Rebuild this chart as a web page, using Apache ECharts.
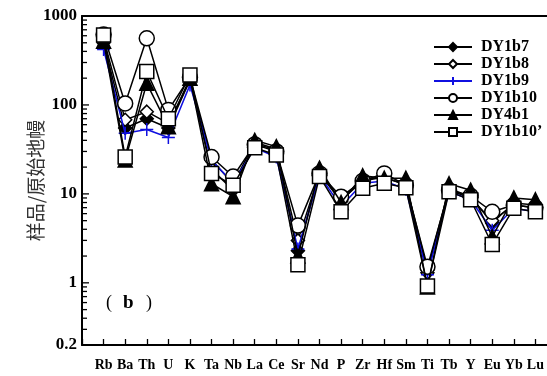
<!DOCTYPE html>
<html><head><meta charset="utf-8">
<script src="https://cdn.jsdelivr.net/npm/echarts@6/dist/echarts.min.js"></script>
<style>html,body{margin:0;padding:0;background:#fff;overflow:hidden}#c{width:560px;height:376px}</style>
</head><body><div id="c"></div>
<script>
const elements = ['Rb','Ba','Th','U','K','Ta','Nb','La','Ce','Sr','Nd','P','Zr','Hf','Sm','Ti','Tb','Y','Eu','Yb','Lu'];
const seriesNames = ['DY1b7','DY1b8','DY1b9','DY1b10','DY4b1','DY1b10’'];
const DY1b7  = [500,55,70,55,190,24,13,38,32,2.3,17,8.2,15,15,13,1.4,11.5,9.3,4.7,7.9,7.5];
const DY1b8  = [560,68,84,62,190,19,11,37,31,3.0,17,8.5,14,15.5,12.5,1.3,11,9,5,7.5,7];
const DY1b9  = [420,48,53,43,168,24,13.2,33,26,2.4,16.3,7.2,13.2,14,11.3,1.23,10.6,8.6,3.9,6.9,6.3];
const DY1b10 = [620,104,561,88,205,26,15.7,36,30,4.4,17,9.3,14,17,12.5,1.52,11,9.5,6.3,7.5,7];
const DY4b1  = [520,24,175,57,200,13,9.3,40,34,2.0,19.5,8,16,15,15,0.9,13,11,3.3,9,8.6];
const DY1b10p= [610,26,237,70,217,17,12.5,33,27.4,1.6,15.7,6.3,11.6,13.2,11.7,0.92,10.6,8.6,2.7,6.9,6.3];
const yMajorTicks = [0.2,1,10,100,1000];
const yMinorTicks = [0.3,0.4,0.5,0.6,0.7,0.8,0.9,2,3,4,5,6,7,8,9,20,30,40,50,60,70,80,90,200,300,400,500,600,700,800,900];

const catData = [''].concat(elements, ['']);
const pad = arr => [null].concat(arr, [null]);
const serif = '"Liberation Serif","Times New Roman",serif';
const cjk = '"Noto Sans CJK SC",sans-serif';
const crossPath = 'path://M0,-10L0,10M-10,0L10,0';

const styles = [
  {symbol:'diamond', size:13, fill:'#000', line:'#000'},
  {symbol:'diamond', size:13, fill:'#fff', line:'#000'},
  {symbol:crossPath, size:13, fill:'#1010e0', line:'#1010e0', cross:true},
  {symbol:'circle', size:15, fill:'#fff', line:'#000'},
  {symbol:'triangle', size:14, fill:'#000', line:'#000'},
  {symbol:'rect', size:14, fill:'#fff', line:'#000'}
];
const datas = [DY1b7, DY1b8, DY1b9, DY1b10, DY4b1, DY1b10p];

const series = datas.map((d,i)=>{
  const s = styles[i];
  return {
    name: seriesNames[i], type:'line', data: pad(d), xAxisIndex:0, yAxisIndex:0,
    symbol: s.symbol, symbolSize: s.size, showAllSymbol:true,
    lineStyle:{color:s.line, width:1.5},
    itemStyle: s.cross ? {color:s.line, borderColor:s.line, borderWidth:1.5}
                       : {color:s.fill, borderColor:'#000', borderWidth:1.5},
    z: 2+i
  };
});

// y-axis tick marks (major + minor) drawn through the axis scale
const tickData = yMajorTicks.map(v=>[0, v, 7]).concat(yMinorTicks.map(v=>[0, v, 5]));
series.push({
  type:'custom', silent:true, clip:false, z:20, xAxisIndex:0, yAxisIndex:0,
  data: tickData,
  encode:{x:0, y:1},
  renderItem: (params, api) => {
    const p = api.coord([api.value(0), api.value(1)]);
    const len = api.value(2);
    return {type:'line', shape:{x1:p[0], y1:p[1], x2:p[0]+len, y2:p[1]}, style:{stroke:'#000', lineWidth:1.3}};
  }
});

const chart = echarts.init(document.getElementById('c'), null, {renderer:'canvas'});
chart.setOption({
  animation:false,
  backgroundColor:'#fff',
  grid:{left:82, top:16, bottom:31, right:3},
  legend:{
    orient:'vertical', left:433, top:39, itemWidth:38, itemHeight:10, itemGap:1, padding:0,
    data: seriesNames,
    textStyle:{fontFamily:serif, fontWeight:'bold', fontSize:16, lineHeight:16, color:'#000', padding:[0,0,0,4]}
  },
  xAxis:[{
    type:'category', data:catData, boundaryGap:false, position:'bottom',
    axisLine:{lineStyle:{color:'#000', width:2}},
    axisTick:{show:true, inside:true, length:6, lineStyle:{color:'#000', width:1.3}},
    axisLabel:{interval:0, color:'#000', fontFamily:serif, fontWeight:'bold', fontSize:14, margin:13, hideOverlap:false},
    splitLine:{show:false}
  },{
    type:'category', data:catData, boundaryGap:false, position:'top',
    axisLine:{show:true, lineStyle:{color:'#000', width:2}},
    axisTick:{show:false}, axisLabel:{show:false}, splitLine:{show:false}
  }],
  yAxis:{
    type:'log', min:0.2, max:1000, logBase:10,
    name:'样品/原始地幔', nameLocation:'middle', nameGap:37, nameRotate:90, nameMoveOverlap:false,
    nameTextStyle:{fontFamily:cjk, fontSize:19, color:'#333'},
    axisLine:{show:true, lineStyle:{color:'#000', width:2}},
    axisTick:{show:false},
    axisLabel:{customValues:yMajorTicks, formatter:v=>String(+Number(v).toPrecision(3)), color:'#000', fontFamily:serif, fontWeight:'bold', fontSize:17, margin:5},
    splitLine:{show:false}
  },
  graphic:[
    {type:'text', left:106, top:294, style:{text:'(', font:'18px "Liberation Serif", serif', fill:'#000'}},
    {type:'text', left:123, top:294, style:{text:'b', font:'bold 19px "Liberation Serif", serif', fill:'#000'}},
    {type:'text', left:146, top:294, style:{text:')', font:'18px "Liberation Serif", serif', fill:'#000'}}
  ],
  series: series
});
</script></body></html>
